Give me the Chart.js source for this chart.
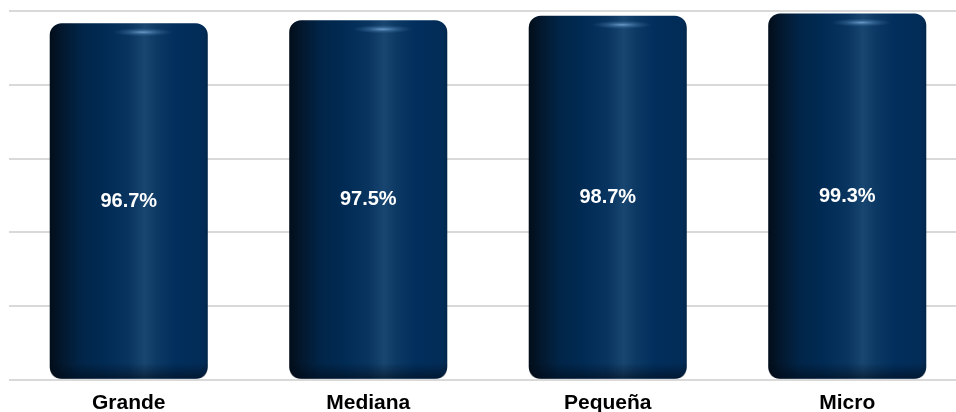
<!DOCTYPE html>
<html>
<head>
<meta charset="utf-8">
<script src="https://cdn.jsdelivr.net/npm/chart.js@4/dist/chart.umd.min.js"></script>
<style>
html,body{margin:0;padding:0;background:#fff;overflow:hidden;width:956px;height:412px;}
#wrap{position:absolute;left:0;top:0;width:967px;height:427px;}
</style>
</head>
<body>
<div id="wrap"><canvas id="c" width="967" height="427"></canvas></div>
<script>
const categories = ["Grande", "Mediana", "Pequeña", "Micro"];
const values = [96.7, 97.5, 98.7, 99.3];
const valueLabels = ["96.7%", "97.5%", "98.7%", "99.3%"];

const BAR_PCT = 0.66;
const FONT = "'Liberation Sans', Arial, sans-serif";

function barGradient(c) {
  const chart = c.chart;
  const xs = chart.scales.x;
  if (!xs || !chart.chartArea) return '#002b55';
  const cx = xs.getPixelForValue(c.dataIndex);
  const step = xs.getPixelForValue(1) - xs.getPixelForValue(0);
  const w = step * BAR_PCT;
  const l = cx - w / 2;
  const g = chart.ctx.createLinearGradient(l, 0, l + w, 0);
  g.addColorStop(0.0, '#020d19');
  g.addColorStop(0.07, '#03172c');
  g.addColorStop(0.2, '#012548');
  g.addColorStop(0.35, '#012b54');
  g.addColorStop(0.5, '#08345f');
  g.addColorStop(0.6, '#184670');
  g.addColorStop(0.68, '#0b3964');
  g.addColorStop(0.8, '#012e5c');
  g.addColorStop(0.97, '#022c57');
  g.addColorStop(1.0, '#03264a');
  return g;
}

function rrPath(ctx, x, y, w, h, r) {
  ctx.beginPath();
  ctx.moveTo(x + r, y);
  ctx.lineTo(x + w - r, y);
  ctx.quadraticCurveTo(x + w, y, x + w, y + r);
  ctx.lineTo(x + w, y + h - r);
  ctx.quadraticCurveTo(x + w, y + h, x + w - r, y + h);
  ctx.lineTo(x + r, y + h);
  ctx.quadraticCurveTo(x, y + h, x, y + h - r);
  ctx.lineTo(x, y + r);
  ctx.quadraticCurveTo(x, y, x + r, y);
  ctx.closePath();
}

const overlayPlugin = {
  id: 'overlay',
  afterDatasetsDraw(chart) {
    const ctx = chart.ctx;
    const meta = chart.getDatasetMeta(0);
    meta.data.forEach((el, i) => {
      const p = el.getProps(['x', 'y', 'base', 'width'], true);
      const l = p.x - p.width / 2, t = p.y, h = p.base - p.y, w = p.width;
      ctx.save();
      rrPath(ctx, l, t, w, h, 12);
      ctx.clip();
      // bottom shading
      const gb = ctx.createLinearGradient(0, p.base - 16, 0, p.base);
      gb.addColorStop(0, 'rgba(0,8,20,0)');
      gb.addColorStop(1, 'rgba(0,8,20,0.55)');
      ctx.fillStyle = gb;
      ctx.fillRect(l, p.base - 16, w, 16);
      // top highlight glow
      const hx = l + w * 0.59, hy = t + 9;
      ctx.translate(hx, hy);
      ctx.scale(1, 0.14);
      const rg = ctx.createRadialGradient(0, 0, 0, 0, 0, 30);
      rg.addColorStop(0, 'rgba(120,170,215,0.85)');
      rg.addColorStop(0.5, 'rgba(80,130,180,0.4)');
      rg.addColorStop(1, 'rgba(60,110,160,0)');
      ctx.fillStyle = rg;
      ctx.beginPath();
      ctx.arc(0, 0, 30, 0, Math.PI * 2);
      ctx.fill();
      ctx.restore();
      // value label
      ctx.save();
      ctx.fillStyle = '#ffffff';
      ctx.font = 'bold 20px ' + FONT;
      ctx.textAlign = 'center';
      ctx.textBaseline = 'middle';
      ctx.fillText(valueLabels[i], p.x, (p.y + p.base) / 2);
      ctx.restore();
    });
  }
};

new Chart(document.getElementById('c'), {
  type: 'bar',
  data: {
    labels: categories,
    datasets: [{
      data: values,
      backgroundColor: barGradient,
      borderWidth: 0,
      borderRadius: 12,
      borderSkipped: false,
      categoryPercentage: 1,
      barPercentage: BAR_PCT
    }]
  },
  options: {
    responsive: false,
    devicePixelRatio: 1,
    animation: false,
    layout: { padding: { left: 9, right: 0, top: 11, bottom: 0 } },
    plugins: { legend: { display: false }, tooltip: { enabled: false } },
    scales: {
      x: {
        grid: { display: false, drawTicks: false },
        border: { display: false },
        ticks: { color: '#000', font: { family: FONT, size: 21, weight: 'bold' }, padding: 11 }
      },
      y: {
        min: 0, max: 100,
        ticks: { stepSize: 20, display: false },
        grid: { color: '#d9d9d9', lineWidth: 2, drawTicks: false },
        border: { display: false }
      }
    }
  },
  plugins: [overlayPlugin]
});
</script>
</body>
</html>
